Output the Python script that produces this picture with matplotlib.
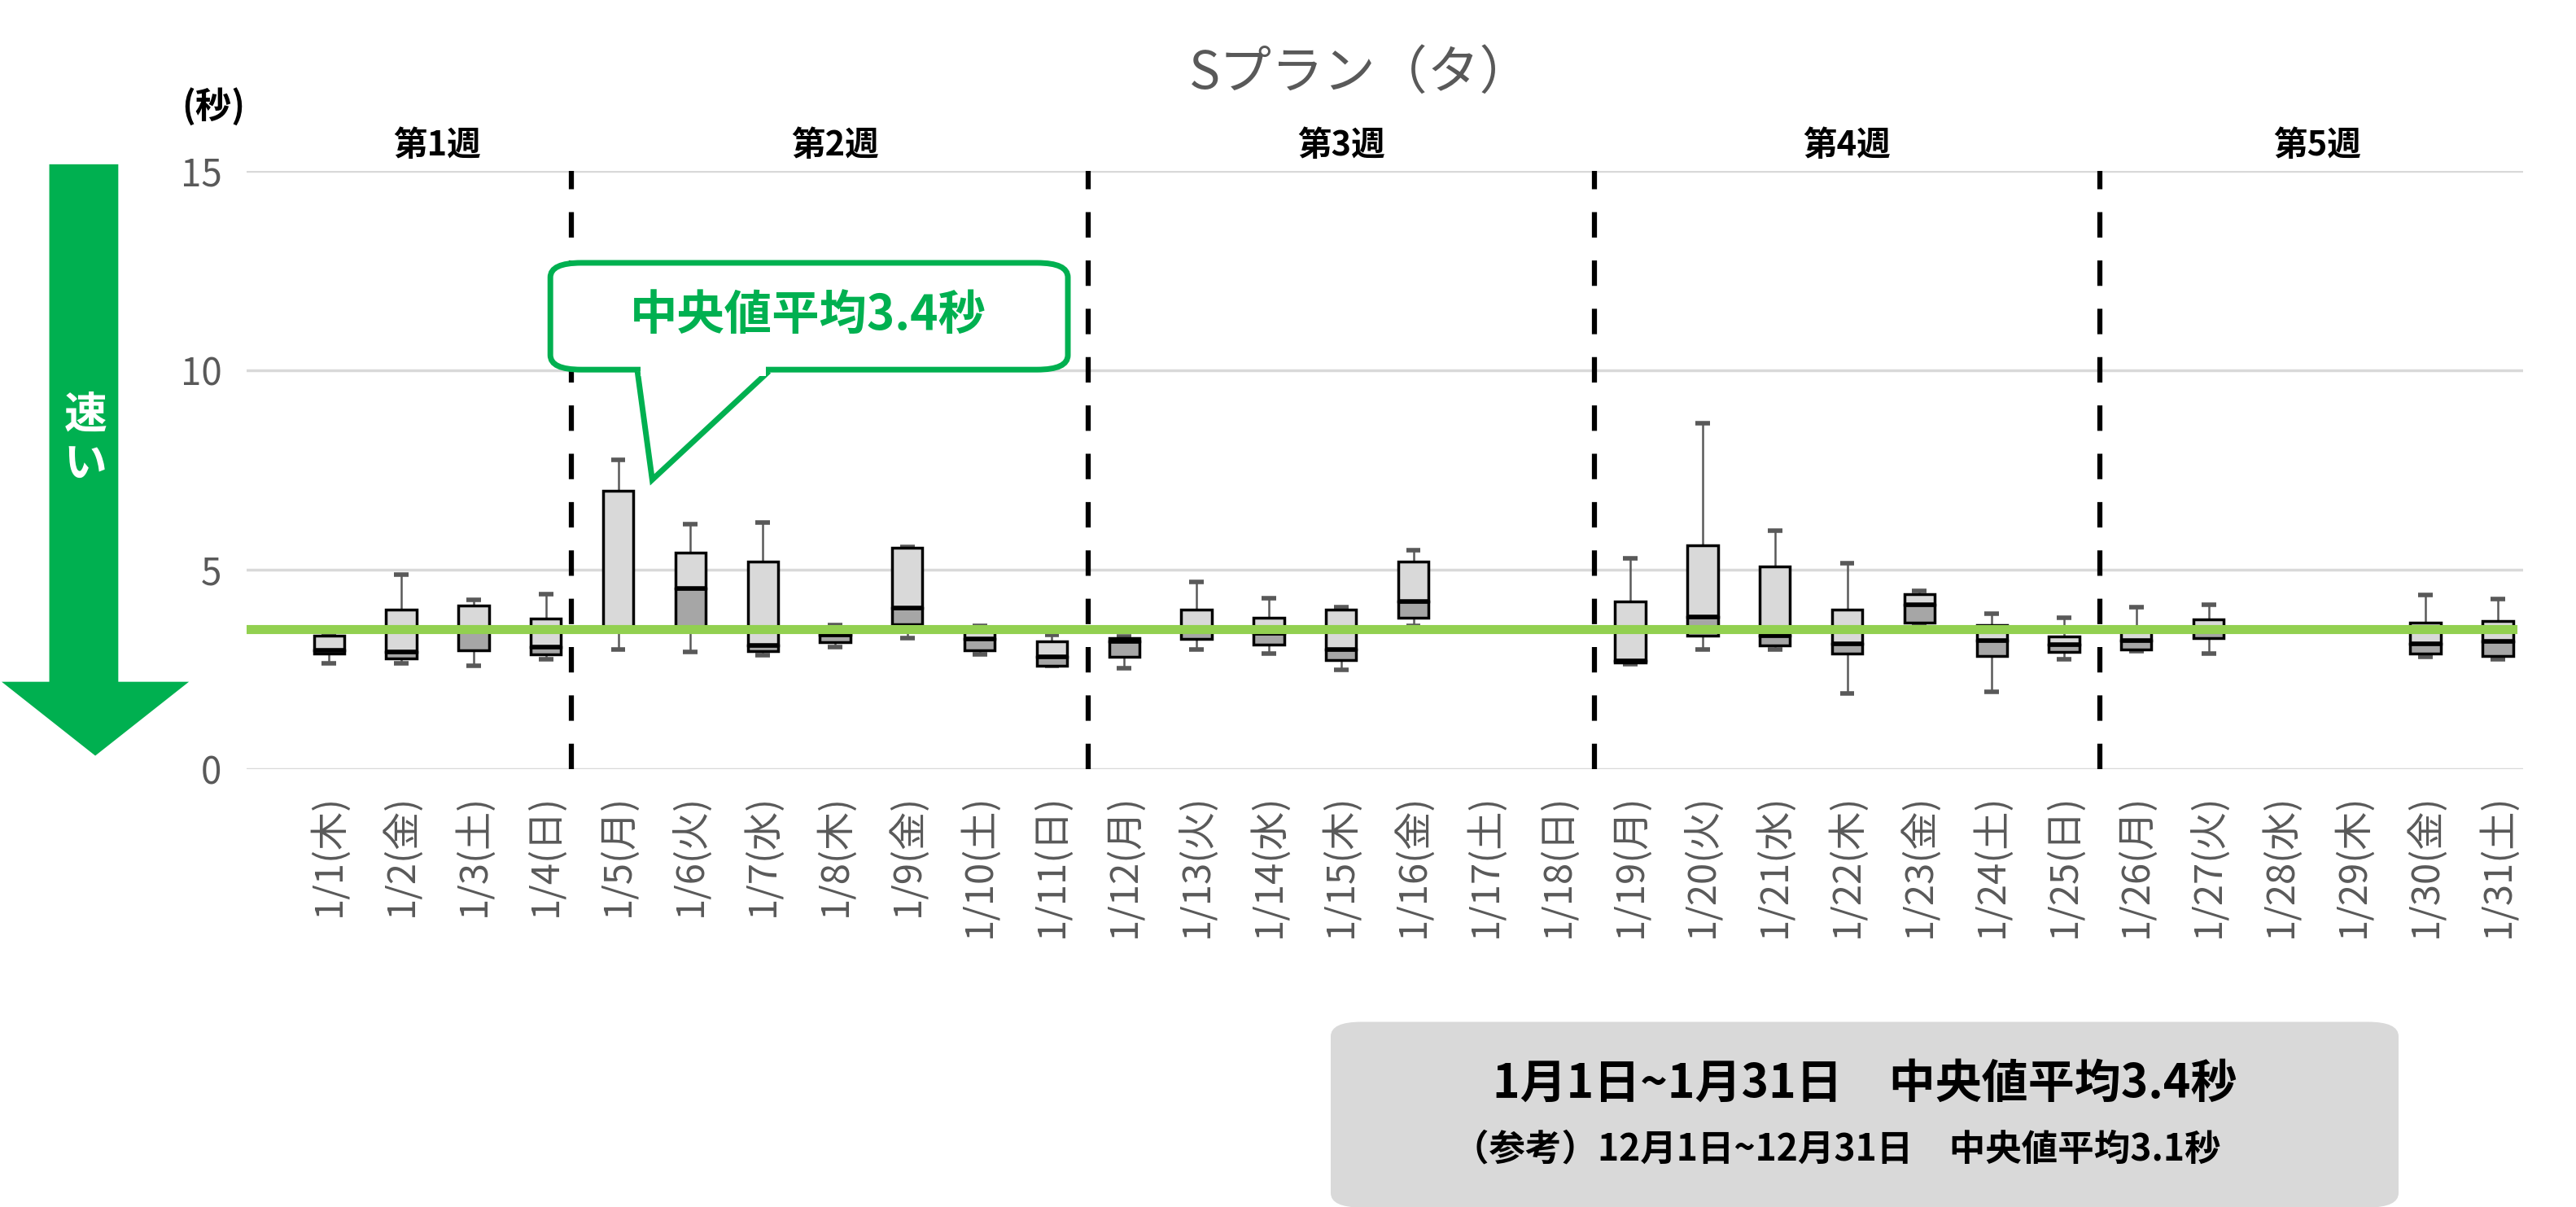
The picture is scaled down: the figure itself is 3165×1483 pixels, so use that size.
import numpy as np
import matplotlib.pyplot as plt
from matplotlib.patches import FancyBboxPatch, Polygon

plt.rcParams['font.family'] = ['Noto Sans CJK JP', 'DejaVu Sans']

days = ['1/1(木)', '1/2(金)', '1/3(土)', '1/4(日)', '1/5(月)', '1/6(火)', '1/7(水)', '1/8(木)',
        '1/9(金)', '1/10(土)', '1/11(日)', '1/12(月)', '1/13(火)', '1/14(水)', '1/15(木)', '1/16(金)',
        '1/17(土)', '1/18(日)', '1/19(月)', '1/20(火)', '1/21(水)', '1/22(木)', '1/23(金)', '1/24(土)',
        '1/25(日)', '1/26(月)', '1/27(火)', '1/28(水)', '1/29(木)', '1/30(金)', '1/31(土)']
nan = np.nan
mins = [2.65, 2.65, 2.59, 2.76, 2.99, 2.94, 2.86, 3.06, 3.29, 2.88, 2.59, 2.53, 2.99, 2.89, 2.48, 3.6,
        nan, nan, 2.63, 3.01, 2.99, 1.89, 3.6, 1.93, 2.75, 2.95, 2.89, nan, nan, 2.82, 2.75]
q1 = [2.89, 2.78, 2.98, 2.87, 3.45, 3.45, 2.95, 3.18, 3.63, 2.98, 2.6, 2.82, 3.27, 3.13, 2.74, 3.8,
      nan, nan, 2.68, 3.35, 3.11, 2.89, 3.67, 2.84, 2.93, 3.01, 3.28, nan, nan, 2.89, 2.84]
medians = [2.97, 2.93, 3.55, 3.06, 3.55, 4.54, 3.1, 3.37, 4.05, 3.27, 2.82, 3.2, 3.5, 3.4, 3.01, 4.2,
           nan, nan, 2.71, 3.81, 3.35, 3.14, 4.12, 3.22, 3.12, 3.22, 3.5, nan, nan, 3.14, 3.2]
q3 = [3.35, 4.0, 4.1, 3.78, 6.97, 5.43, 5.2, 3.5, 5.56, 3.55, 3.2, 3.29, 4.0, 3.8, 4.0, 5.2,
      nan, nan, 4.2, 5.61, 5.08, 4.0, 4.39, 3.62, 3.33, 3.5, 3.76, nan, nan, 3.67, 3.71]
maxs = [3.35, 4.88, 4.25, 4.38, 7.75, 6.14, 6.18, 3.62, 5.58, 3.6, 3.37, 3.32, 4.69, 4.28, 4.07, 5.5,
        nan, nan, 5.29, 8.67, 5.97, 5.16, 4.46, 3.89, 3.79, 4.07, 4.12, nan, nan, 4.36, 4.26]
avg_median = 3.5
week_labels = ['第1週', '第2週', '第3週', '第4週', '第5週']
week_centers = [1.5, 7.0, 14.0, 21.0, 27.5]
week_bounds = [3.35, 10.5, 17.5, 24.5]

W, H = 3165, 1483
S = W / 1568


def fp(x, y):
    return (x * S / W, 1 - y * S / H)


fig = plt.figure(figsize=(W / 100, H / 100), dpi=100)
ax = fig.add_axes([303 / W, 1 - 945 / H, 2797 / W, 735 / H])

x = np.arange(len(days))
bw = 0.42
for i in x:
    if np.isnan(q1[i]):
        continue
    ax.vlines(i, mins[i], maxs[i], color='#595959', lw=1.8, zorder=2)
    ax.hlines([mins[i], maxs[i]], i - 0.1, i + 0.1, color='#595959', lw=4, zorder=2)
    ax.bar(i, medians[i] - q1[i], bw, bottom=q1[i], color='#a6a6a6', edgecolor='black', lw=2.5, zorder=3)
    ax.bar(i, q3[i] - medians[i], bw, bottom=medians[i], color='#d9d9d9', edgecolor='black', lw=2.5, zorder=3)
    ax.hlines(medians[i], i - bw / 2, i + bw / 2, color='black', lw=4, zorder=4)

ax.plot([-1.14, 30.2], [avg_median, avg_median], color='#92d050', lw=8, zorder=5)
for b in week_bounds:
    ax.vlines(b, 0, 15, color='black', lw=4.5, linestyles=(0, (5, 4.5)), zorder=6)
for c, lab in zip(week_centers, week_labels):
    ax.text(c, 15.2, lab, ha='center', va='bottom', fontsize=30, fontweight='bold')

ax.set_xlim(-1.14, 30.35)
ax.set_ylim(0, 15)
ax.set_yticks([0, 5, 10, 15])
ax.yaxis.grid(True, color='#d9d9d9', lw=2.5)
ax.set_axisbelow(True)
ax.set_xticks(x)
ax.set_xticklabels(days, rotation=90, fontsize=34, color='#595959')
ax.tick_params(axis='y', labelsize=33, labelcolor='#595959', length=0, pad=22)
ax.tick_params(axis='x', length=0, pad=22)
for s in ax.spines.values():
    s.set_visible(False)

fig.text(*fp(828, 45), 'Sプラン（タ）', ha='center', va='center', fontsize=46, color='#595959')
fig.text(*fp(130, 65), '(秒)', ha='center', va='center', fontsize=32, fontweight='bold')

# speed arrow
arrow = Polygon([fp(30, 100), fp(72, 100), fp(72, 415), fp(115, 415), fp(58, 460),
                 fp(1, 415), fp(30, 415)], closed=True, transform=fig.transFigure,
                facecolor='#00b050', edgecolor='none')
fig.patches.append(arrow)
fig.text(*fp(52, 268), '速\nい', ha='center', va='center', fontsize=38, fontweight='bold',
         color='white', linespacing=1.2)

# callout
x0, y0 = fp(335, 225)
x1, y1 = fp(650, 160)
call = FancyBboxPatch((x0, y0), x1 - x0, y1 - y0, boxstyle='round,pad=0,rounding_size=0.012',
                      transform=fig.transFigure, facecolor='white', edgecolor='#00b050', lw=5)
fig.patches.append(call)
tail = Polygon([fp(388, 226), fp(397, 292), fp(468, 226)], closed=False, transform=fig.transFigure,
               facecolor='white', edgecolor='#00b050', lw=5, zorder=3)
fig.patches.append(tail)
cover = Polygon([fp(390, 223), fp(466, 223), fp(466, 229), fp(390, 229)], transform=fig.transFigure,
                facecolor='white', edgecolor='none', zorder=4)
fig.patches.append(cover)
fig.text(*fp(492, 192), '中央値平均3.4秒', ha='center', va='center', fontsize=42,
         fontweight='bold', color='#00b050', zorder=5)

# summary box
x0, y0 = fp(810, 735)
x1, y1 = fp(1460, 622)
summ = FancyBboxPatch((x0, y0), x1 - x0, y1 - y0, boxstyle='round,pad=0,rounding_size=0.012',
                      transform=fig.transFigure, facecolor='#d9d9d9', edgecolor='none')
fig.patches.append(summ)
fig.text(*fp(1135, 660), '1月1日~1月31日　中央値平均3.4秒', ha='center', va='center',
         fontsize=41, fontweight='bold')
fig.text(*fp(1118, 700), '（参考）12月1日~12月31日　中央値平均3.1秒', ha='center', va='center',
         fontsize=32, fontweight='bold')

fig.savefig('out.png', dpi=100)
